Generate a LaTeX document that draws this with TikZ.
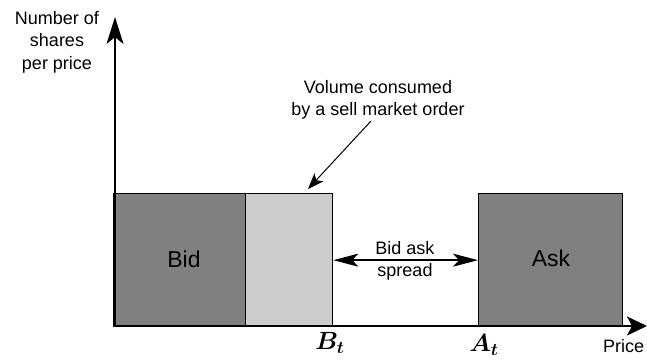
\documentclass[tikz,border=0pt]{standalone}
\usepackage{fontspec}
\setmainfont{Liberation Sans}
\usepackage{amsmath}
\usetikzlibrary{arrows.meta}
\begin{document}
\begin{tikzpicture}[x=1pt,y=-1pt,
  axis/.style={line width=2pt,-{Stealth[length=27pt,width=17pt,inset=7pt]}},
  darkbox/.style={draw=black,line width=1.3pt,fill=black!50},
  lightbox/.style={draw=black,line width=1.3pt,fill=black!20},
  lbl/.style={font=\fontsize{18}{22.5}\selectfont,align=center,inner sep=0pt},
  big/.style={font=\fontsize{23}{26}\selectfont,inner sep=0pt},
  mathlbl/.style={font=\fontsize{23}{24}\selectfont,inner sep=0pt}]
\useasboundingbox (0,0) rectangle (647,360);
% boxes
\node[darkbox,minimum width=132pt,minimum height=133pt,anchor=north west,inner sep=0pt] (bid) at (113,193) {};
\node[lightbox,minimum width=87pt,minimum height=133pt,anchor=north west,inner sep=0pt] (vol) at (245,193) {};
\node[darkbox,minimum width=144pt,minimum height=133pt,anchor=north west,inner sep=0pt] (ask) at (478,193) {};
\node[big] (bidt) at (184,259) {Bid};
\node[big] (askt) at (551,258) {Ask};
% axes
\coordinate (o) at (115,326);
\coordinate (ytop) at (115,17);
\coordinate (xo) at (113,326);
\coordinate (xend) at (647,326);
\draw[axis] (o) -- (ytop);
\draw[axis,-{Stealth[length=20pt,width=19pt,inset=5pt]}] (xo) -- (xend);
% labels
\node[lbl] (ylab) at (57,42) {Number of\\shares\\per price};
\node[lbl,anchor=north west] (price) at (603,339) {Price};
\node[mathlbl] (bt) at (330,343) {$\boldsymbol{B_t}$};
\node[mathlbl] (at) at (484,345) {$\boldsymbol{A_t}$};
% spread
\node[lbl,anchor=base] (spread1) at (405,254) {Bid ask};
\node[lbl,anchor=base] (spread2) at (405,276) {spread};
\draw[line width=1.5pt,{Stealth[length=25pt,width=13pt,inset=6pt]}-{Stealth[length=25pt,width=13pt,inset=6pt]}] (vol.east) -- (ask.west);
% volume annotation
\node[lbl,anchor=base] (voltext1) at (378,93) {Volume consumed};
\node[lbl,anchor=base] (voltext2) at (378,115) {by a sell market order};
\coordinate (volpt) at (308,189);
\draw[line width=1pt,-{Stealth[length=16pt,width=12pt,inset=4pt]}] (371,121) -- (volpt);
\end{tikzpicture}
\end{document}
